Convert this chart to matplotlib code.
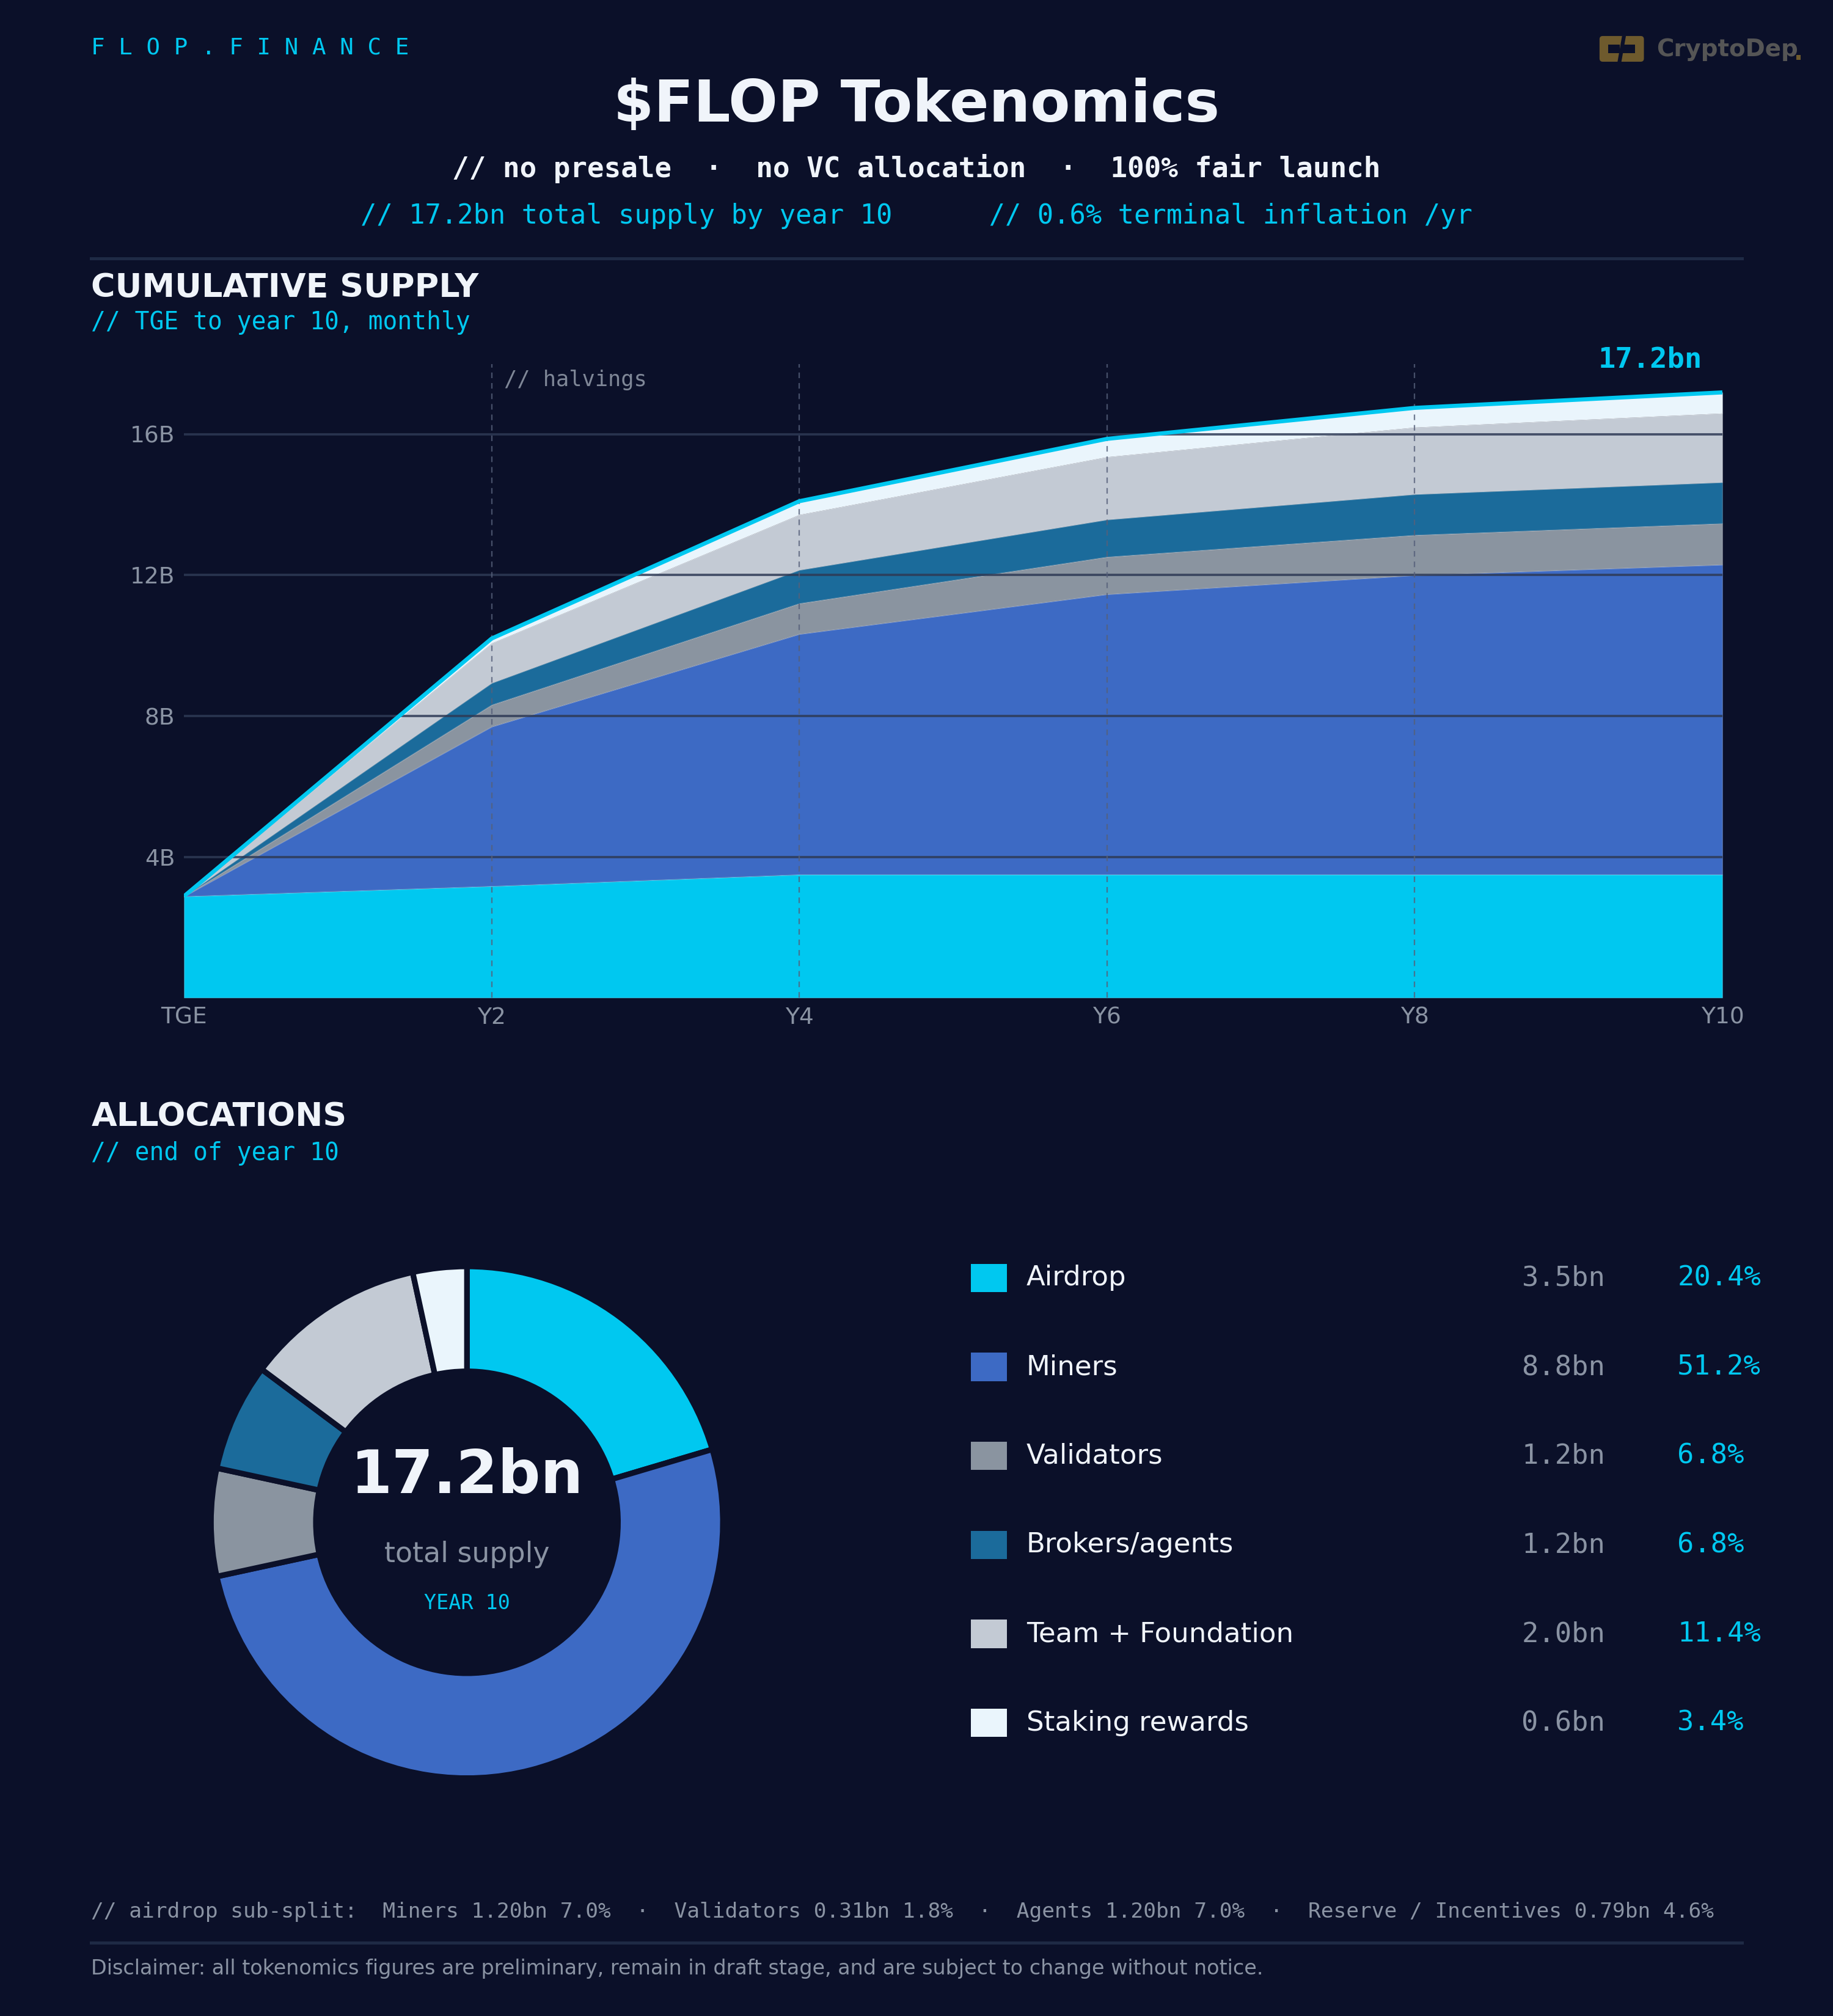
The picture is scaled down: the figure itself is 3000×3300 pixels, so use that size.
import matplotlib
matplotlib.use("Agg")
import matplotlib.pyplot as plt
from matplotlib.patches import FancyBboxPatch, Rectangle, Polygon
import numpy as np

# ---------------- data ----------------
x_years = [0, 2, 4, 6, 8, 10]
x_labels = ["TGE", "Y2", "Y4", "Y6", "Y8", "Y10"]
halving_years = [2, 4, 6, 8]

airdrop = [2.88, 3.17, 3.50, 3.50, 3.50, 3.50]
miners = [0.00, 4.53, 6.83, 7.96, 8.50, 8.80]
validators = [0.00, 0.62, 0.87, 1.06, 1.14, 1.17]
brokers = [0.00, 0.62, 0.95, 1.06, 1.16, 1.17]
team = [0.00, 1.13, 1.57, 1.78, 1.90, 1.96]
staking = [0.00, 0.13, 0.38, 0.51, 0.55, 0.59]

y_ticks = [4, 8, 12, 16]
y_tick_labels = ["4B", "8B", "12B", "16B"]

alloc_names = ["Airdrop", "Miners", "Validators", "Brokers/agents", "Team + Foundation", "Staking rewards"]
alloc_bn = ["3.5bn", "8.8bn", "1.2bn", "1.2bn", "2.0bn", "0.6bn"]
alloc_pct = [20.4, 51.2, 6.8, 6.8, 11.4, 3.4]

colors = ["#00c8f0", "#3d6ac4", "#8a94a0", "#1b6b9b", "#c3cad4", "#eaf5fc"]

BG = "#0b1029"
CYAN = "#00c8f0"
WHITE = "#f0f4fa"
GRAY = "#8a93a3"
MONO = "DejaVu Sans Mono"
SANS = "DejaVu Sans"

W, H = 1425.0, 1568.0
def fx(x): return x / W
def fy(y): return 1 - y / H

fig = plt.figure(figsize=(10, 11), dpi=300, facecolor=BG)

# ---------------- header ----------------
fig.text(fx(71), fy(38), "F L O P . F I N A N C E", color=CYAN, family=MONO,
         fontsize=9, ha="left", va="center")

# logo
GOLD = "#6e5a2d"
logo_ax = fig.add_axes([fx(1243), fy(49), fx(1402) - fx(1243), fy(27) - fy(49)])
logo_ax.set_xlim(0, 159); logo_ax.set_ylim(0, 22); logo_ax.axis("off")
logo_ax.add_patch(FancyBboxPatch((0.5, 1), 34.5, 20, boxstyle="round,pad=0,rounding_size=2.5",
                                 fc=GOLD, ec="none"))
logo_ax.add_patch(Rectangle((7, 7.5), 9, 7, fc=BG, ec="none"))
logo_ax.add_patch(Rectangle((18, 7.5), 10, 7, fc=BG, ec="none"))
logo_ax.add_patch(Polygon([[14.5, 1], [17.5, 1], [21, 21], [18, 21]], closed=True, fc=BG, ec="none"))
logo_ax.text(45, 10.5, "CryptoDep", color="#555555", family=SANS, fontweight="bold",
             fontsize=9.3, ha="left", va="center")
logo_ax.add_patch(Rectangle((153.5, 2.5), 3.5, 3.5, fc=GOLD, ec="none"))

fig.text(0.5, fy(82), "$FLOP Tokenomics", color=WHITE, family=SANS, fontweight="bold",
         fontsize=22.8, ha="center", va="center")
fig.text(0.5, fy(131), "// no presale  \u00b7  no VC allocation  \u00b7  100% fair launch",
         color=WHITE, family=MONO, fontweight="bold", fontsize=11, ha="center", va="center")
fig.text(0.5, fy(168), "// 17.2bn total supply by year 10      // 0.6% terminal inflation /yr",
         color=CYAN, family=MONO, fontsize=10.5, ha="center", va="center")

fig.add_artist(plt.Line2D([fx(71), fx(1354)], [fy(201), fy(201)], color="#1e2a45", lw=1.2))

fig.text(fx(71), fy(224), "CUMULATIVE SUPPLY", color=WHITE, family=SANS, fontweight="bold",
         fontsize=12.95, ha="left", va="center")
fig.text(fx(71), fy(251), "// TGE to year 10, monthly", color=CYAN, family=MONO,
         fontsize=9.5, ha="left", va="center")

# ---------------- area chart ----------------
ax = fig.add_axes([fx(143), fy(776), fx(1339) - fx(143), fy(283) - fy(776)])
ax.set_facecolor(BG)
series = [airdrop, miners, validators, brokers, team, staking]
ax.stackplot(x_years, *series, colors=colors, linewidth=0.4, edgecolor="#ffffff30", zorder=1)
total = np.sum(np.array(series), axis=0)
ax.plot(x_years, total, color=CYAN, lw=1.6, zorder=4, solid_capstyle="butt")

ax.set_xlim(0, 10)
ax.set_ylim(0, 18)
for yt in y_ticks:
    ax.axhline(yt, color="#2e3a55", lw=0.9, alpha=0.85, zorder=3)
for hy in halving_years:
    ax.axvline(hy, color="#56607a", lw=0.55, ls=(0, (4, 3.5)), alpha=0.8, zorder=3)
ax.text(2.08, 17.55, "// halvings", color="#7f8797", family=MONO, fontsize=8.5,
        ha="left", va="center")
ax.annotate("17.2bn", xy=(10, total[-1]), xytext=(-8, 7.5), textcoords="offset points",
            color=CYAN, family=MONO, fontweight="bold", fontsize=11.3, ha="right", va="bottom",
            annotation_clip=False)

ax.set_xticks(x_years)
ax.set_xticklabels(x_labels)
ax.set_yticks(y_ticks)
ax.set_yticklabels(y_tick_labels)
ax.tick_params(length=0, colors=GRAY, labelsize=9, pad=3.5)
for lab in ax.get_xticklabels() + ax.get_yticklabels():
    lab.set_family(SANS)
for s in ax.spines.values():
    s.set_visible(False)

# ---------------- allocations ----------------
fig.text(fx(71), fy(869), "ALLOCATIONS", color=WHITE, family=SANS, fontweight="bold",
         fontsize=12.95, ha="left", va="center")
fig.text(fx(71), fy(897), "// end of year 10", color=CYAN, family=MONO,
         fontsize=9.5, ha="left", va="center")

cx, cy, r = 363, 1184, 199
pax = fig.add_axes([fx(cx - r), fy(cy + r), fx(2 * r), fy(cy - r) - fy(cy + r)])
pax.pie(alloc_pct, colors=colors, startangle=90, counterclock=False, radius=1,
        wedgeprops=dict(width=0.41, edgecolor=BG, linewidth=2.2))
pax.set_xlim(-1, 1); pax.set_ylim(-1, 1)
pax.set_aspect("auto")
pax.axis("off")

fig.text(fx(cx), fy(1148), "17.2bn", color=WHITE, family=SANS, fontweight="bold",
         fontsize=23.5, ha="center", va="center")
fig.text(fx(cx), fy(1209), "total supply", color=GRAY, family=SANS,
         fontsize=11, ha="center", va="center")
fig.text(fx(cx), fy(1247), "YEAR 10", color=CYAN, family=MONO,
         fontsize=8, ha="center", va="center")

row_y0, row_dy = 994, 69.2
for i, (name, bn, pct, c) in enumerate(zip(alloc_names, alloc_bn, alloc_pct, colors)):
    yy = row_y0 + i * row_dy
    fig.add_artist(Rectangle((fx(755), fy(yy + 11)), fx(28), fy(yy - 11) - fy(yy + 11),
                             transform=fig.transFigure, fc=c, ec="none"))
    fig.text(fx(798), fy(yy), name, color=WHITE, family=SANS, fontsize=10.8,
             ha="left", va="center")
    fig.text(fx(1248), fy(yy), bn, color=GRAY, family=MONO, fontsize=10.9,
             ha="right", va="center")
    fig.text(fx(1304), fy(yy), f"{pct:.1f}%", color=CYAN, family=MONO, fontsize=10.9,
             ha="left", va="center")

# ---------------- footer ----------------
fig.text(fx(71), fy(1487),
         "// airdrop sub-split:  Miners 1.20bn 7.0%  \u00b7  Validators 0.31bn 1.8%  \u00b7  "
         "Agents 1.20bn 7.0%  \u00b7  Reserve / Incentives 0.79bn 4.6%",
         color=GRAY, family=MONO, fontsize=8.27, ha="left", va="center")
fig.add_artist(plt.Line2D([fx(71), fx(1354)], [fy(1511), fy(1511)], color="#1e2a45", lw=1.2))
fig.text(fx(71), fy(1531),
         "Disclaimer: all tokenomics figures are preliminary, remain in draft stage, and are subject to change without notice.",
         color=GRAY, family=SANS, fontsize=8.0, ha="left", va="center")

fig.savefig("out.png", dpi=300, facecolor=BG)
